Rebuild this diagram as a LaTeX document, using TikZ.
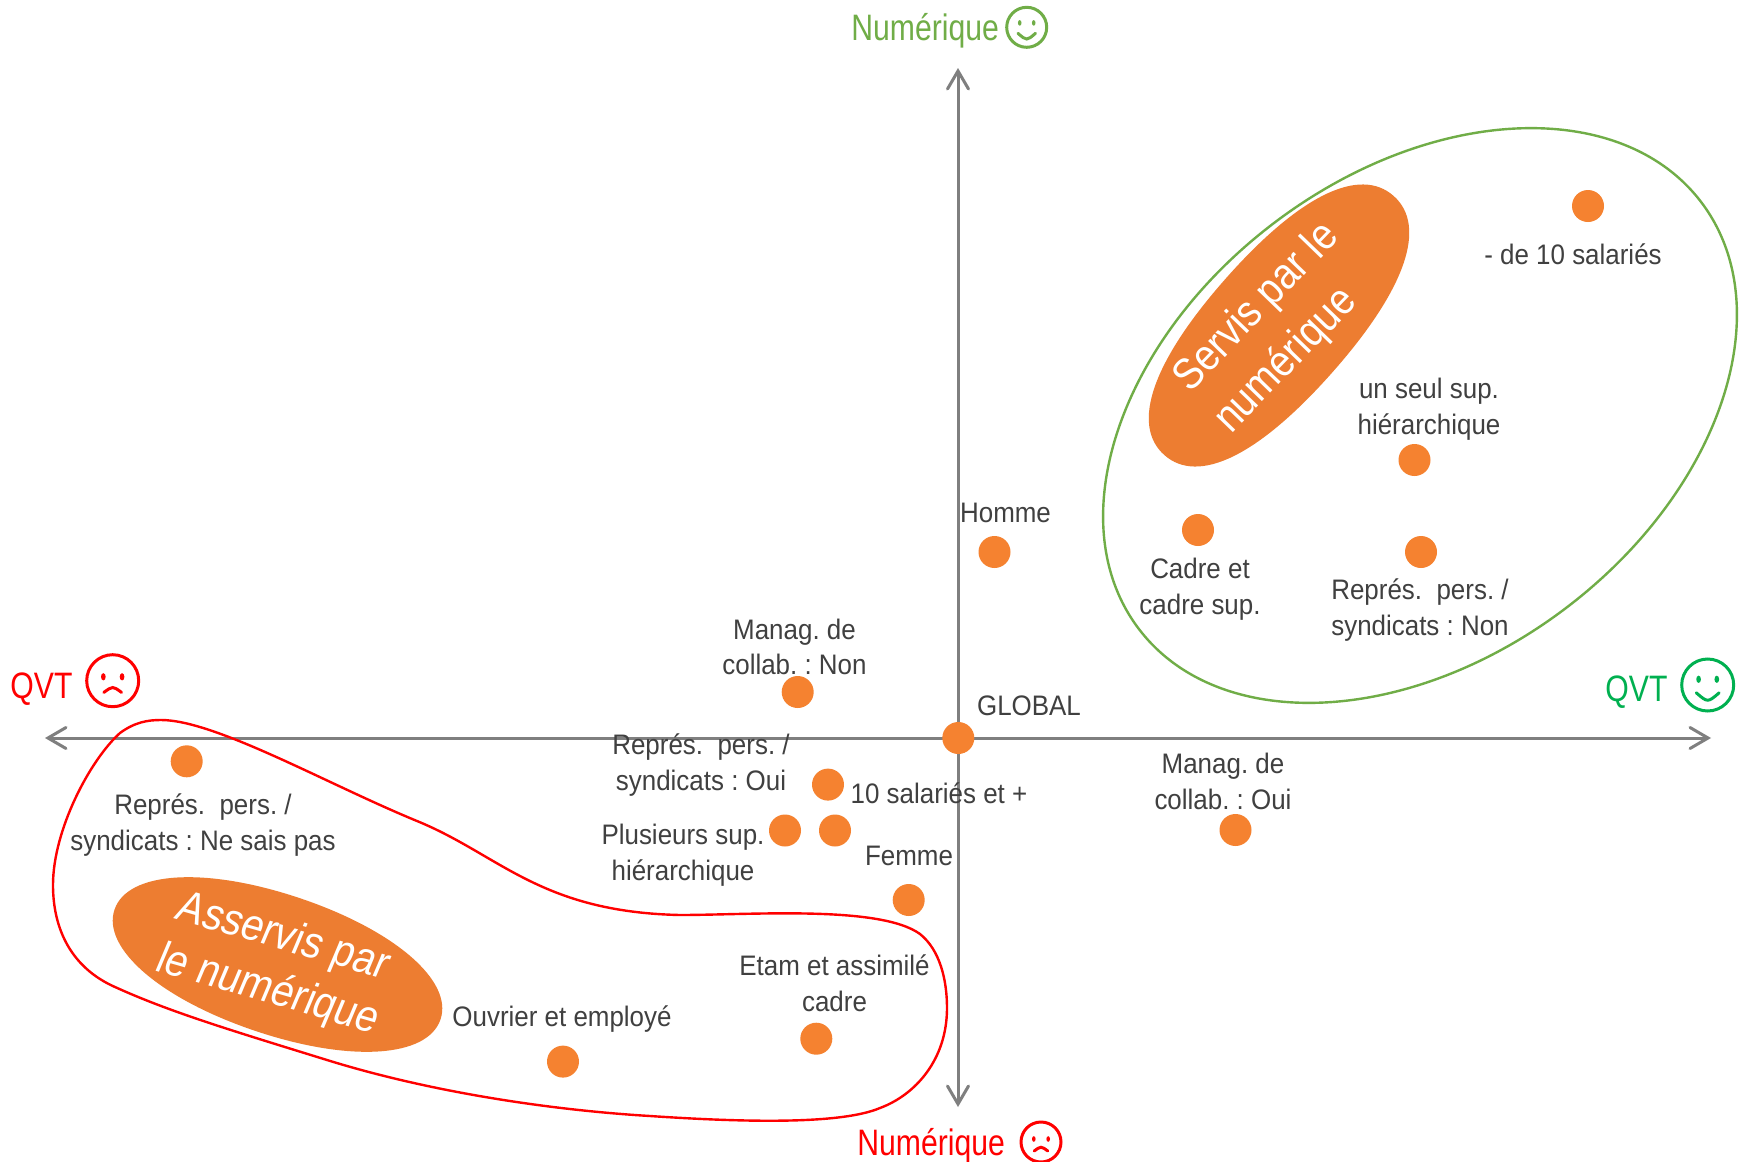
\documentclass[tikz,border=0pt]{standalone}
\usepackage{fontspec}
\usetikzlibrary{arrows.meta,shapes.geometric}
\setmainfont{Liberation Sans}
\newfontfamily\labfont[FakeStretch=0.92]{Liberation Sans}
\newfontfamily\bigfont[FakeStretch=0.82]{Liberation Sans}
\newfontfamily\wfont[FakeStretch=0.88]{Liberation Sans}
\newfontfamily\wslant[FakeStretch=0.88,FakeSlant=0.12]{Liberation Sans}
\definecolor{axisgray}{HTML}{7F7F7F}
\definecolor{txtgray}{HTML}{404040}
\definecolor{dotor}{HTML}{F58230}
\definecolor{elor}{HTML}{ED7D31}
\definecolor{lgreen}{HTML}{70AD47}
\definecolor{qgreen}{HTML}{00B050}
\tikzset{
 axisline/.style={draw=axisgray,line width=1.5pt,{Straight Barb[length=9pt,width=10.5pt,line cap=round]}-{Straight Barb[length=9pt,width=10.5pt,line cap=round]}},
 dot/.style={circle,fill=dotor,inner sep=0pt,minimum size=16pt},
 lbl/.style={align=center,text=txtgray,inner sep=0pt,font=\labfont\fontsize{14.1}{17.8}\selectfont},
 biglbl/.style={anchor=base west,inner sep=0pt,font=\bigfont\fontsize{18.4}{20}\selectfont},
 cloudtxt/.style={text=white,align=center,inner sep=0pt},
 facestroke/.style={line width=1.5pt},
}
\newcommand{\smileface}[4]{\begin{scope}[shift={(#1,#2)},scale=#3]
 \draw[facestroke,draw=#4] (0,0) circle (1);
 \fill[#4] (-.35,-.22) ellipse [x radius=.09,y radius=.14];
 \fill[#4] (.35,-.22) ellipse [x radius=.09,y radius=.14];
 \draw[facestroke,draw=#4,line cap=round] (-.44,.3) .. controls (0,.68) .. (.44,.3);
\end{scope}}
\newcommand{\frownface}[4]{\begin{scope}[shift={(#1,#2)},scale=#3]
 \draw[facestroke,draw=#4] (0,0) circle (1);
 \fill[#4] (-.36,-.15) ellipse [x radius=.09,y radius=.14];
 \fill[#4] (.36,-.15) ellipse [x radius=.09,y radius=.14];
 \draw[facestroke,draw=#4,line cap=round] (-.34,.45) .. controls (0,.2) .. (.34,.45);
\end{scope}}
% blunt-ended oval: centre x, y, radii, angle, handle factor
\newcommand{\ovalblob}[6]{\begin{scope}[shift={(#1,#2)},rotate=#5]
 \fill[elor] (#3,0) .. controls (#3,#6*#4) and (#6*#3,#4) .. (0,#4)
  .. controls (-#6*#3,#4) and (-#3,#6*#4) .. (-#3,0)
  .. controls (-#3,-#6*#4) and (-#6*#3,-#4) .. (0,-#4)
  .. controls (#6*#3,-#4) and (#3,-#6*#4) .. (#3,0) -- cycle;
\end{scope}}
\begin{document}
\frenchspacing
\begin{tikzpicture}[x=0.5pt,y=-0.5pt]
\fill[white] (0,0) rectangle (1742,1162);
\path[use as bounding box] (0,0) rectangle (1742,1162);
% axes
\coordinate (west) at (45,738);
\coordinate (east) at (1711,738);
\coordinate (north) at (958,68);
\coordinate (south) at (958,1107);
\draw[axisline] (west) -- (east);
\draw[axisline] (south) -- (north);
% regions
\node[ellipse,draw=lgreen,line width=1.2pt,minimum width=353pt,minimum height=241.6pt,rotate=37.2,inner sep=0pt] (servisregion) at (1420,415.5) {};
\draw[red,line width=1.2pt] (161,720) .. controls (215,720) and (327,784) .. (417,821)
 .. controls (500,855) and (540,912) .. (680,915)
 .. controls (750,915) and (880,905) .. (920,934)
 .. controls (940,950) and (947,980) .. (947,1008)
 .. controls (947,1060) and (915,1095) .. (880,1108)
 .. controls (840,1125) and (740,1122) .. (650,1116)
 .. controls (550,1110) and (430,1092) .. (327,1060)
 .. controls (230,1030) and (170,1012) .. (115,987)
 .. controls (72,968) and (53,930) .. (53,885)
 .. controls (53,830) and (90,760) .. (120,733)
 .. controls (135,722) and (148,720) .. (161,720) -- cycle;
\ovalblob{1279}{325.5}{173}{71}{48.5}{.64}
\ovalblob{277.5}{964.5}{172}{70}{-18.6}{.58}
\node[cloudtxt,rotate=46,font=\wfont\fontsize{22}{29}\selectfont] (servis) at (1278,328) {Servis par le\\numérique\hspace*{18pt}};
\node[cloudtxt,rotate=-16,font=\wslant\fontsize{22.5}{27.5}\selectfont] (asservis) at (274,964) {Asservis par\\le numérique};
% dots
\node[dot] (d1) at (1588,206) {};
\node[dot] (d2) at (1414.5,460) {};
\node[dot] (d3) at (1198,530) {};
\node[dot] (d4) at (1421,552) {};
\node[dot] (d5) at (994.5,552) {};
\node[dot] (d6) at (797.7,692) {};
\node[dot] (d7) at (958.3,738) {};
\node[dot] (d8) at (1235.5,830) {};
\node[dot] (d9) at (828,784.6) {};
\node[dot] (d10) at (785,830.5) {};
\node[dot] (d11) at (835,830.5) {};
\node[dot] (d12) at (908.7,900) {};
\node[dot] (d13) at (816.3,1038.7) {};
\node[dot] (d14) at (563,1061.6) {};
\node[dot] (d15) at (186.7,761.3) {};
% labels
\node[lbl] (l1) at (1573,254) {- de 10 salariés};
\node[lbl] (l2) at (1429,409) {un seul sup.\\hiérarchique};
\node[lbl] (l3) at (1200,589) {Cadre et\\cadre sup.};
\node[lbl] (l4) at (1420,610) {Représ.\ \ pers. /\\syndicats : Non};
\node[lbl] (l5) at (1005.5,513) {Homme};
\node[lbl] (l6) at (794.5,647) {Manag. de\\collab. : Non};
\node[lbl] (l7) at (1029,705.5) {GLOBAL};
\node[lbl] (l8) at (1223,781.5) {Manag. de\\collab. : Oui};
\node[lbl] (l9) at (701,765) {Représ.\ \ pers. /\\syndicats : Oui};
\node[lbl] (l10) at (939,793) {10 salariés et +};
\node[lbl] (l11) at (683,855) {Plusieurs sup.\\hiérarchique};
\node[lbl] (l12) at (909,855.5) {Femme};
\node[lbl] (l13) at (834.5,983) {Etam et assimilé\\cadre};
\node[lbl] (l14) at (562,1019) {Ouvrier et employé};
\node[lbl] (l15) at (203,825) {Représ.\ \ pers. /\\syndicats : Ne sais pas};
% axis titles
\node[biglbl,text=lgreen] (numup) at (851,40.7) {Numérique};
\smileface{1026.7}{27.3}{20}{lgreen}
\node[biglbl,text=red] (numdown) at (857,1155) {Numérique};
\frownface{1041}{1142}{20}{red}
\node[biglbl,text=red] (qvtleft) at (10,698) {QVT};
\frownface{112.7}{680.7}{26}{red}
\node[biglbl,text=qgreen] (qvtright) at (1605,701) {QVT};
\smileface{1707.7}{685}{26}{qgreen}
\end{tikzpicture}
\end{document}
